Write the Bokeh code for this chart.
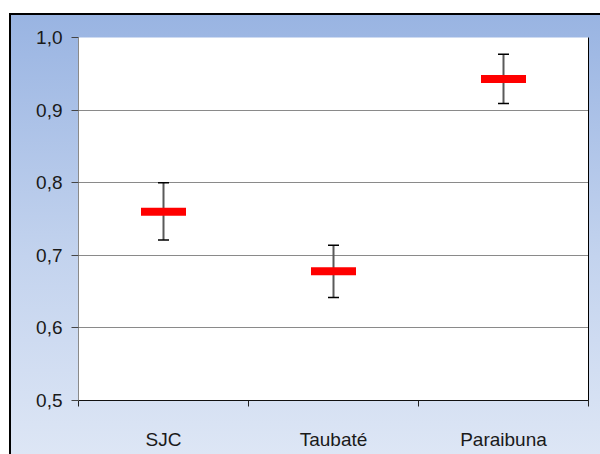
from bokeh.plotting import figure
from bokeh.models import (ColumnDataSource, Whisker, TeeHead, FixedTicker,
                          LinearAxis, Range1d, CustomJSTickFormatter)
from bokeh.embed import file_html
from bokeh.resources import INLINE

# Site means with their error-bar limits
sites = ["SJC", "Taubaté", "Paraibuna"]
mean = [0.760, 0.678, 0.943]
upper = [0.800, 0.714, 0.977]
lower = [0.721, 0.642, 0.909]
y_ticks = [0.5, 0.6, 0.7, 0.8, 0.9, 1.0]
grid_ticks = [0.6, 0.7, 0.8, 0.9]

# one slot per site, marks at slot centres, ticks on slot boundaries
pos = [i + 0.5 for i in range(len(sites))]
bounds = list(range(len(sites) + 1))
src = ColumnDataSource(dict(x=pos, mean=mean, upper=upper, lower=lower))

FONT = "Liberation Sans"

p = figure(width=591, height=441, margin=(13, 0, 0, 9),
           x_range=Range1d(0, len(sites)), y_range=Range1d(0.5, 1.0),
           output_backend="svg", toolbar_location=None,
           min_border_left=67, min_border_top=22,
           min_border_right=14, min_border_bottom=56)

p.styles = {
    "background": "linear-gradient(to bottom, #99b4e2 0%, #c3d3ee 55%, #dde6f5 100%)",
    "border-top": "2px solid #000",
    "border-left": "2px solid #000",
}
p.border_fill_alpha = 0
p.background_fill_color = "white"
p.outline_line_color = None

# grid
p.xgrid.visible = False
p.ygrid.ticker = FixedTicker(ticks=grid_ticks)
p.ygrid.grid_line_color = "#8a8a8a"
p.ygrid.grid_line_width = 1

# error bars
wh = Whisker(source=src, base="x", upper="upper", lower="lower",
             line_color="#5a5a5a", line_width=2, level="underlay",
             upper_head=TeeHead(size=11, line_color="black", line_width=1.5),
             lower_head=TeeHead(size=11, line_color="black", line_width=1.5))
p.add_layout(wh)

# mean markers
p.rect(x="x", y="mean", width=45, height=8, width_units="screen",
       height_units="screen", fill_color="#ff0000", line_color=None,
       source=src)

# x axis
xa = p.xaxis[0]
xa.ticker = FixedTicker(ticks=pos, minor_ticks=bounds)
xa.major_label_overrides = {x: s for x, s in zip(pos, sites)}
xa.major_tick_out = 0
xa.major_tick_in = 0
xa.minor_tick_out = 6
xa.minor_tick_in = 0
xa.minor_tick_line_color = "#222222"
xa.axis_line_color = "#111111"
xa.major_label_standoff = 22
xa.major_label_text_font = FONT
xa.major_label_text_font_size = "19px"
xa.major_label_text_color = "#1a1a1a"

# y axis
ya = p.yaxis[0]
ya.ticker = FixedTicker(ticks=y_ticks)
ya.formatter = CustomJSTickFormatter(code="return tick.toFixed(1).replace('.', ',');")
ya.major_tick_out = 7
ya.major_tick_in = 0
ya.minor_tick_line_color = None
ya.major_tick_line_color = "#444444"
ya.axis_line_color = "#8a8a8a"
ya.major_label_standoff = 9
ya.major_label_text_font = FONT
ya.major_label_text_font_size = "19px"
ya.major_label_text_color = "#1a1a1a"

# closing line on the right of the plot area
ra = LinearAxis(ticker=FixedTicker(ticks=[]), axis_line_color="black",
                major_tick_line_color=None, minor_tick_line_color=None,
                major_label_text_font_size="0px")
p.add_layout(ra, "right")

open("out.html", "w").write(file_html(p, INLINE))
